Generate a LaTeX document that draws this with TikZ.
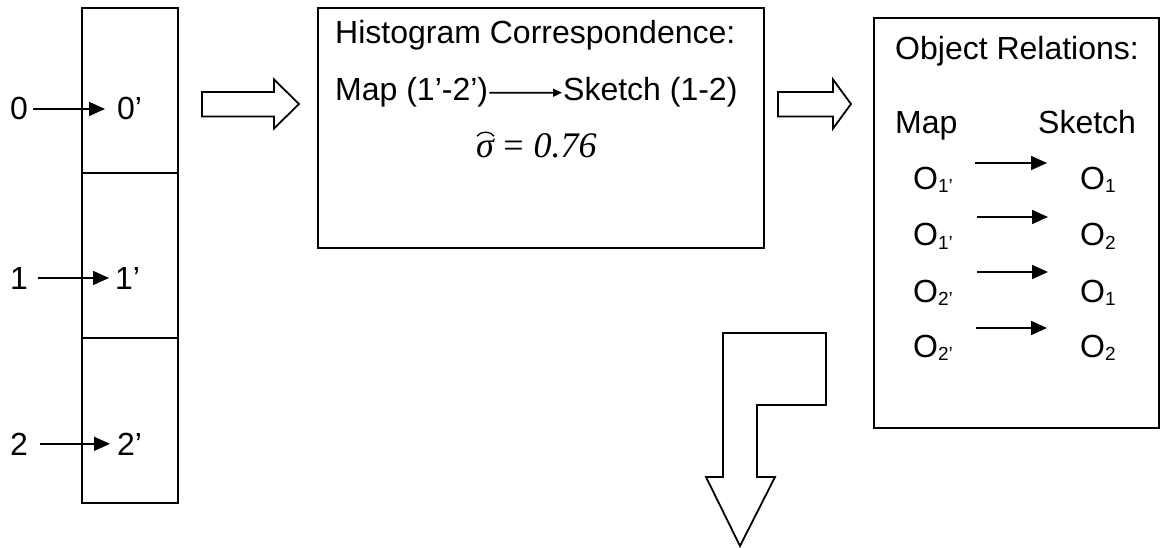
\documentclass[tikz,border=0pt]{standalone}
\usepackage{fontspec}
\setmainfont{Liberation Sans}
\newfontfamily\tmsfont{Liberation Serif}
\usetikzlibrary{arrows.meta}
\newcommand{\subO}[1]{O\raisebox{-3pt}{\fontsize{19}{21}\selectfont #1}}
\begin{document}
\begin{tikzpicture}[x=1pt,y=-1pt,
  box/.style={draw,line width=2pt},
  lbl/.style={inner sep=0pt,anchor=base west,font=\fontsize{32}{38}\selectfont},
  arr/.style={line width=1.6pt,-{Triangle[length=16pt,width=14pt]}},
  sarr/.style={line width=1.6pt,-{Triangle[length=9pt,width=8pt]}},
  blk/.style={draw,line width=1.8pt,line join=miter,fill=white}]
\useasboundingbox (0,0) rectangle (1162,548);

% left column
\draw[box] (82,8) rectangle (178,503);
\draw[box] (82,173) -- (178,173);
\draw[box] (82,338) -- (178,338);

\node[lbl] (n0) at (10,120) {0};
\node[lbl] (n0p) at (117,120) {0’};
\node[lbl] (n1) at (10,289) {1};
\node[lbl] (n1p) at (115,289) {1’};
\node[lbl] (n2) at (10,455) {2};
\node[lbl] (n2p) at (117,455) {2’};
\draw[arr,shorten <=5pt,shorten >=12pt] (n0.east) -- (n0p.west);
\draw[arr,shorten <=10pt,shorten >=6pt] (n1.east) -- (n1p.west);
\draw[arr,shorten <=12pt,shorten >=7pt] (n2.east) -- (n2p.west);

% block arrow 1
\draw[blk] (202,92) -- (274,92) -- (274,79.5) -- (299,104) -- (274,128.5) -- (274,116.5) -- (202,116.5) -- cycle;

% histogram box
\draw[box] (318,8) rectangle (764,248);
\node[lbl] (h1) at (335,44) {Histogram Correspondence:};
\node[lbl] (h2) at (335,101) {Map (1’-2’)};
\node[lbl] (h3) at (563,101) {Sketch (1-2)};
\draw[sarr,shorten <=1pt,shorten >=1pt] (h2.east) -- (h3.west);
\node[inner sep=0pt,anchor=base west,font=\tmsfont\itshape\fontsize{36}{42}\selectfont] (sg) at (476,158) {σ};
\node[inner sep=0pt,anchor=base west,font=\tmsfont\fontsize{36}{42}\selectfont] (sv) at ([xshift=9pt]sg.base east) {=\hspace{10pt}\itshape 0.76};
\draw[line width=1.3pt] ([xshift=1pt,yshift=3pt]sg.north west) to[bend left=55] ([xshift=0pt,yshift=3pt]sg.north east);

% block arrow 2
\draw[blk] (778,92) -- (833,92) -- (833,79.5) -- (851,104) -- (833,128.5) -- (833,116.5) -- (778,116.5) -- cycle;

% object relations box
\draw[box] (874,18) rectangle (1159,428);
\node[lbl] (ot) at (895,60) {Object Relations:};
\node[lbl] (om) at (895,134) {Map};
\node[lbl] (os) at (1038,134) {Sketch};
\node[lbl] (l1) at (913,190) {\subO{1’}};
\node[lbl] (r1) at (1080,190) {\subO{1}};
\node[lbl] (l2) at (913,246) {\subO{1’}};
\node[lbl] (r2) at (1080,246) {\subO{2}};
\node[lbl] (l3) at (913,302) {\subO{2’}};
\node[lbl] (r3) at (1080,302) {\subO{1}};
\node[lbl] (l4) at (913,357) {\subO{2’}};
\node[lbl] (r4) at (1080,357) {\subO{2}};
\coordinate (a1s) at (975,163); \coordinate (a1e) at (1047,163);
\coordinate (a2s) at (977,217); \coordinate (a2e) at (1048,217);
\coordinate (a3s) at (977,272); \coordinate (a3e) at (1048,272);
\coordinate (a4s) at (976,328); \coordinate (a4e) at (1047,328);
\draw[arr] (a1s) -- (a1e);
\draw[arr] (a2s) -- (a2e);
\draw[arr] (a3s) -- (a3e);
\draw[arr] (a4s) -- (a4e);

% L-shaped down arrow
\draw[blk] (723,333) -- (826,333) -- (826,405) -- (757,405) -- (757,477) -- (775,477) -- (740,546) -- (706,477) -- (723,477) -- cycle;
\end{tikzpicture}
\end{document}
